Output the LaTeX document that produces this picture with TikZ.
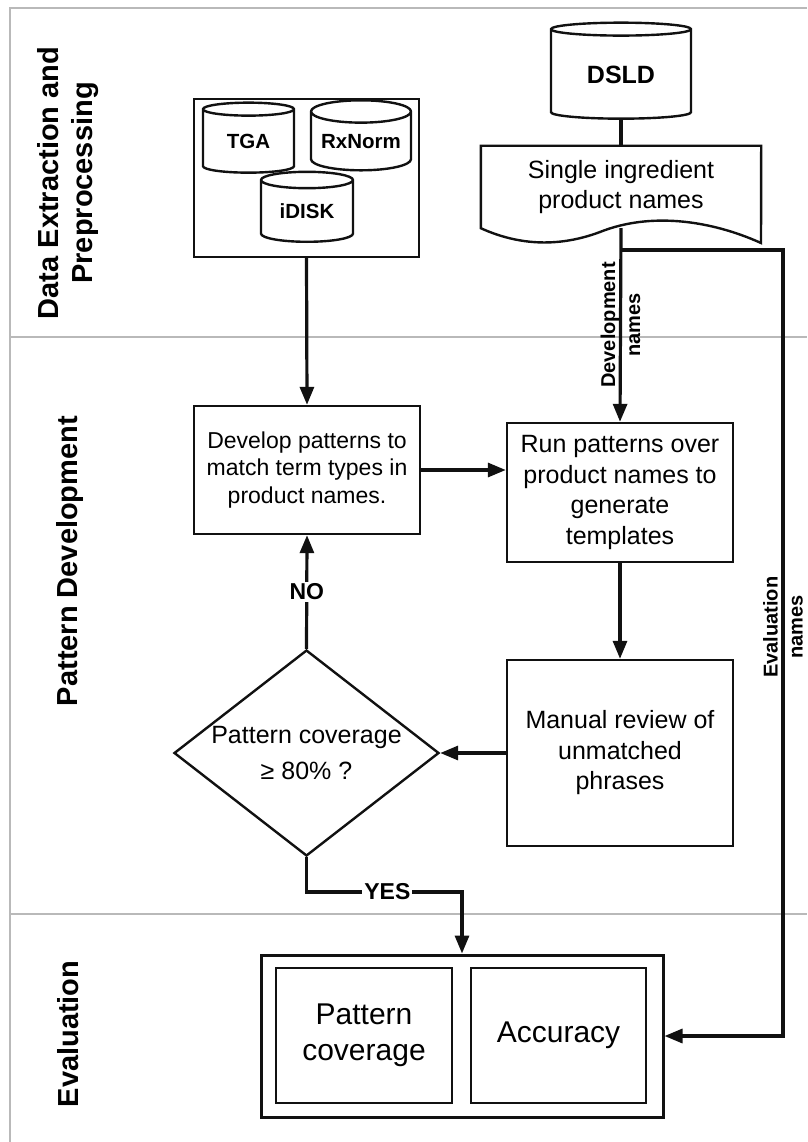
\documentclass[tikz,border=0pt]{standalone}
\usepackage{fontspec}
\setmainfont{Liberation Sans}
\usetikzlibrary{arrows.meta,shapes.geometric}
\definecolor{ink}{HTML}{111111}
\definecolor{lane}{HTML}{B9B9B9}
\tikzset{
  lanesep/.style={draw=lane, line width=1.5pt},
  lanelab/.style={rotate=90, align=center, inner sep=0pt, font=\fontsize{29}{34}\selectfont\bfseries},
  box/.style={draw=ink, line width=2.4pt, inner sep=0pt, align=center},
  db/.style={cylinder, shape border rotate=90, draw=ink, line width=2.4pt, inner sep=0pt,
    font=\fontsize{20.5}{24}\selectfont\bfseries},
  decide/.style={diamond, draw=ink, line width=2.4pt, inner sep=0pt, aspect=1.29, align=center},
  txt/.style={font=\fontsize{25}{30.5}\selectfont},
  txtsm/.style={font=\fontsize{23}{27.5}\selectfont},
  txtbig/.style={font=\fontsize{30}{36}\selectfont},
  conn/.style={draw=ink, line width=3.2pt},
  arr/.style={conn, -{Triangle[length=18pt,width=14pt]}},
  flowlab/.style={rotate=90, align=center, inner sep=0pt, font=\fontsize{20}{25}\selectfont\bfseries},
  choice/.style={fill=white, inner sep=2pt, font=\fontsize{23}{26}\selectfont\bfseries}
}
\begin{document}
\begin{tikzpicture}[x=1pt, y=-1pt]
  \useasboundingbox (0,0) rectangle (807,1142);

  % lanes
  \draw[lanesep] (807,8) -- (10,8) -- (10,1142);
  \draw[lanesep] (10,337) -- (807,337);
  \draw[lanesep] (10,914) -- (807,914);
  \node[lanelab] (lanedata) at (68,183) {Data Extraction and\\Preprocessing};
  \node[lanelab] (lanedev) at (70,561) {Pattern Development};
  \node[lanelab] (laneeval) at (68,1034) {Evaluation};

  % sources
  \node[box, minimum width=225, minimum height=158] (src) at (306.5,178) {};
  \node[db, aspect=0.3, minimum width=91, minimum height=70] (tga) at (248.5,141.5) {TGA};
  \node[db, aspect=0.28, minimum width=100, minimum height=70] (rxnorm) at (361,141.5) {RxNorm};
  \node[db, aspect=0.3, minimum width=92, minimum height=70] (idisk) at (307,211.5) {iDISK};
  \node[db, aspect=0.19, minimum width=140, minimum height=96,
    font=\fontsize{25}{30}\selectfont\bfseries] (dsld) at (621,74.5) {DSLD};

  \node[txt, inner sep=0pt, align=center, minimum width=280, minimum height=82] (doc) at (621,187)
    {Single ingredient\\product names};
  \draw[box] (doc.south west) -- (doc.north west) -- (doc.north east) -- (761,243)
    .. controls (710,220) and (650,212) .. (600,232)
    .. controls (560,247) and (520,246) .. (doc.south west) -- cycle;

  % pattern development
  \node[box, txtsm, minimum width=226, minimum height=128] (dev) at (307,470)
    {Develop patterns to\\match term types in\\product names.};
  \node[box, txt, minimum width=226, minimum height=139] (run) at (620,492.5)
    {Run patterns over\\product names to\\generate\\templates};
  \node[box, txt, minimum width=226, minimum height=186] (manual) at (620,753)
    {Manual review of\\unmatched\\phrases};
  \node[decide, font=\fontsize{25}{36}\selectfont, minimum width=265, minimum height=206] (check) at (306.5,753)
    {Pattern coverage\\≥ 80\% ?};

  % evaluation
  \node[box, line width=3pt, minimum width=402, minimum height=162] (evalbox) at (462,1036) {};
  \node[box, txtbig, minimum width=176, minimum height=135] (cover) at (364,1035.5) {Pattern\\coverage};
  \node[box, txtbig, minimum width=175, minimum height=135] (acc) at (558.5,1035.5) {Accuracy};

  % connectors
  \draw[conn] (dsld.south) -- (doc.north);
  \draw[arr] (doc.south) -- node[flowlab] {Development\\names} (run.north);
  \coordinate (split) at (621,250);
  \coordinate (evturn) at (783,250);
  \draw[arr] (split) -- (evturn) |- node[flowlab, pos=0.24] {Evaluation\\names} (evalbox.east);
  \draw[arr] (src.south) -- (dev.north);
  \draw[arr] (dev.east) -- (dev.east -| run.west);
  \draw[arr] (run.south) -- (manual.north);
  \draw[arr] (manual.west) -- (check.east);
  \draw[arr] (check.north) -- node[choice] {NO} (dev.south);
  \coordinate (yesturn) at (306.5,892);
  \draw[arr] (check.south) -- (yesturn) -| node[choice, pos=0.26] {YES} (evalbox.north);
\end{tikzpicture}
\end{document}
